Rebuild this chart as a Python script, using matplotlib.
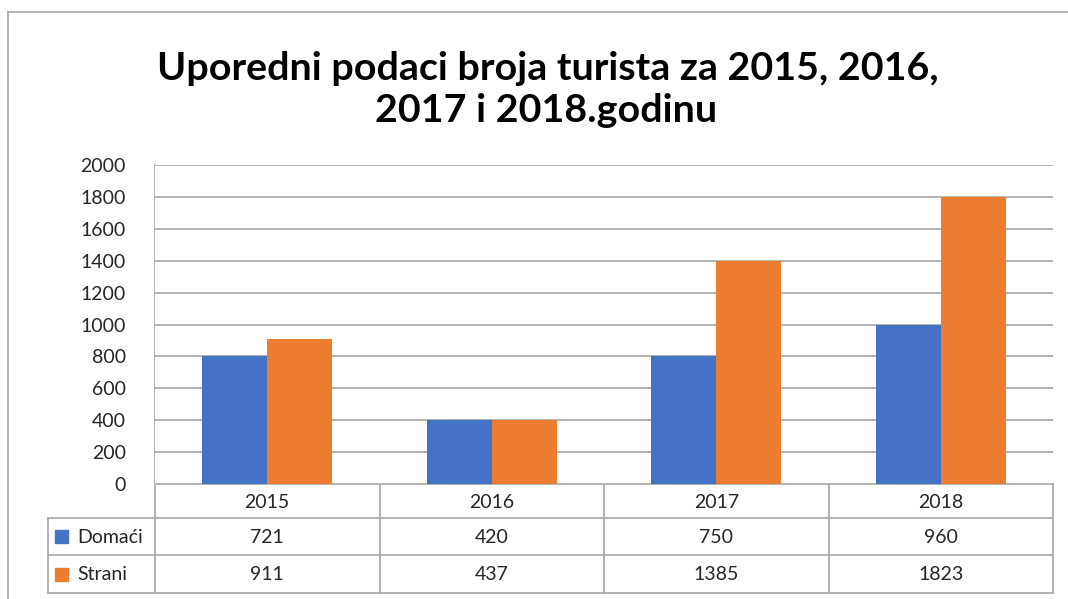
import matplotlib
matplotlib.use("Agg")
import matplotlib.pyplot as plt
from matplotlib.patches import Rectangle
from matplotlib.lines import Line2D

# ---- data ----
years = ["2015", "2016", "2017", "2018"]
series_names = ["Domaći", "Strani"]
# values in the data table
table_domaci = [721, 420, 750, 960]
table_strani = [911, 437, 1385, 1823]
# bar heights as drawn in the picture
bars_domaci = [800, 400, 800, 1000]
bars_strani = [911, 400, 1400, 1800]
y_ticks = [0, 200, 400, 600, 800, 1000, 1200, 1400, 1600, 1800, 2000]

BLUE = "#4472C4"
ORANGE = "#ED7D31"
GRID = "#A6A6A6"
TXT = "#262626"
FONT = ["Lato", "DejaVu Sans"]

W, H = 1068, 599
fig = plt.figure(figsize=(W / 100, H / 100), dpi=100)
plt.rcParams["font.family"] = FONT

def fx(px):
    return px / W

def fy(py):
    return 1 - py / H

# overlay in pixel coordinates for frame / table
ov = fig.add_axes([0, 0, 1, 1])
ov.set_xlim(0, W)
ov.set_ylim(H, 0)
ov.axis("off")

# chart frame
ov.add_line(Line2D([8, W], [12, 12], color="#A6A6A6", lw=1.2))
ov.add_line(Line2D([8, 8], [12, H], color="#A6A6A6", lw=1.2))

# title
ov.text(548, 80, "Uporedni podaci broja turista za 2015, 2016,", ha="center",
        va="baseline", fontsize=28.4, fontweight="bold", color="black")
ov.text(546, 122, "2017 i 2018.godinu", ha="center", va="baseline",
        fontsize=28.4, fontweight="bold", color="black")

# main plot area
L, R, T, B = 155, 1053, 165, 484
ax = fig.add_axes([fx(L), fy(B), fx(R - L), (B - T) / H])
ax.set_xlim(-0.5, len(years) - 0.5)
ax.set_ylim(0, 2000)
ax.set_yticks(y_ticks)
ax.set_yticklabels([str(t) for t in y_ticks], fontsize=14, color=TXT)
ax.tick_params(axis="y", length=0, pad=21)
ax.tick_params(axis="x", length=0, labelbottom=False)
ax.yaxis.grid(True, color=GRID, lw=1.2)
ax.set_axisbelow(True)
for s in ["top", "right", "bottom", "left"]:
    ax.spines[s].set_visible(False)

bw = 0.29
xs = list(range(len(years)))
ax.bar([x - bw / 2 for x in xs], bars_domaci, width=bw, color=BLUE, zorder=3)
ax.bar([x + bw / 2 for x in xs], bars_strani, width=bw, color=ORANGE, zorder=3)

# data table below axis
fig.canvas.draw()
def xpix(xd):
    disp = ax.transData.transform((xd, 0))
    return ov.transData.inverted().transform(disp)[0]

bounds = [xpix(x - 0.5) for x in xs] + [xpix(len(years) - 0.5)]
centers = [xpix(x) for x in xs]
rows_y = [484, 518, 555, 593]
tl, tc = GRID, 1.2
# horizontal lines
ov.add_line(Line2D([bounds[0], bounds[-1]], [rows_y[0], rows_y[0]], color=tl, lw=tc))
for yy in rows_y[1:]:
    ov.add_line(Line2D([48, bounds[-1]], [yy, yy], color=tl, lw=tc))
# vertical lines
ov.add_line(Line2D([48, 48], [rows_y[1], rows_y[3]], color=tl, lw=tc))
ov.add_line(Line2D([bounds[0], bounds[0]], [T, rows_y[3]], color=tl, lw=tc))
for bx in bounds[1:]:
    ov.add_line(Line2D([bx, bx], [rows_y[0], rows_y[3]], color=tl, lw=tc))

mid = [(rows_y[i] + rows_y[i + 1]) / 2 for i in range(3)]
for c, yr in zip(centers, years):
    ov.text(c, mid[0] + 1, yr, ha="center", va="center", fontsize=14, color=TXT)
for i, (name, vals, col) in enumerate(zip(series_names, [table_domaci, table_strani], [BLUE, ORANGE])):
    yy = mid[i + 1]
    ov.add_patch(Rectangle((55, yy - 6.5), 13, 13, color=col))
    ov.text(77, yy + 1, name, ha="left", va="center", fontsize=14, color=TXT)
    for c, v in zip(centers, vals):
        ov.text(c, yy + 1, str(v), ha="center", va="center", fontsize=14, color=TXT)

fig.savefig("out.png", dpi=100)
